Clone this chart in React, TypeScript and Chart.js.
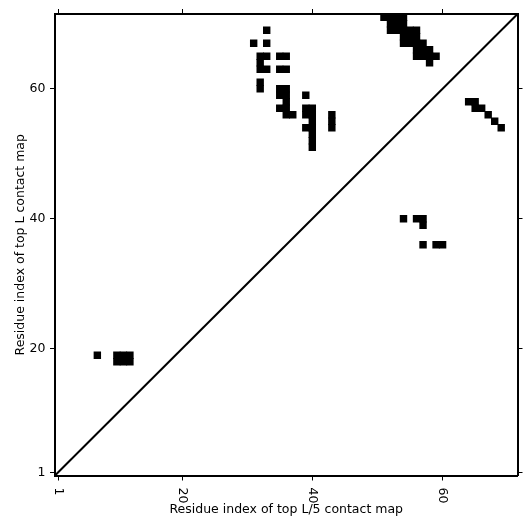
import React, { useEffect, useRef } from "react";
import { Chart, registerables } from "chart.js";

Chart.register(...registerables);

// Residue range (71 residues, cells centred on integer indices)
const AXIS_MIN = 0.5;
const AXIS_MAX = 71.5;

const X_TICKS = [1, 20, 40, 60];
const Y_TICKS = [1, 20, 40, 60];
const X_TICK_LABELS = ["1", "20", "40", "60"];
const Y_TICK_LABELS = ["1", "20", "40", "60"];

const X_TITLE = "Residue index of top L/5 contact map";
const Y_TITLE = "Residue index of top L contact map";

// Top L contacts (upper-left triangle): [column residue, row residue]
const TOP_L_CONTACTS: [number, number][] = [
  [33, 69],
  [31, 67], [33, 67],
  [32, 65], [33, 65], [35, 65], [36, 65],
  [32, 64],
  [32, 63], [33, 63], [35, 63], [36, 63],
  [32, 61], [32, 60],
  [35, 60], [36, 60], [35, 59], [36, 59],
  [36, 58],
  [35, 57], [36, 57],
  [36, 56], [37, 56],
  [39, 59],
  [39, 57], [40, 57], [39, 56], [40, 56], [40, 55], [39, 54], [40, 54], [40, 53], [40, 52], [40, 51],
  [43, 56], [43, 55], [43, 54],
  [7, 19], [10, 19], [11, 19], [12, 19], [10, 18], [11, 18], [12, 18],
  [51, 71], [52, 71], [53, 71], [54, 71],
  [52, 70], [53, 70], [54, 70],
  [52, 69], [53, 69], [54, 69], [55, 69], [56, 69],
  [54, 68], [55, 68], [56, 68],
  [54, 67], [55, 67], [56, 67], [57, 67],
  [56, 66], [57, 66], [58, 66],
  [56, 65], [57, 65], [58, 65], [59, 65],
  [58, 64],
];

// Top L/5 contacts (lower-right triangle): [column residue, row residue]
const TOP_L5_CONTACTS: [number, number][] = [
  [64, 58], [65, 58], [65, 57], [66, 57], [67, 56], [68, 55], [69, 54],
  [54, 40], [56, 40], [57, 40], [57, 39], [57, 36], [59, 36], [60, 36],
];

const FONT = '12.5px "DejaVu Sans"';

function cellRadius(ctx: any) {
  const s = ctx.chart.scales.x;
  if (!s) return 3;
  const w = Math.abs(s.getPixelForValue(1) - s.getPixelForValue(0));
  return (w + 0.9) / Math.SQRT2;
}

const textPlugin = {
  id: "textPlugin",
  afterDraw(chart: any) {
    const { ctx, chartArea, scales } = chart;
    ctx.save();
    ctx.fillStyle = "#000";
    ctx.font = FONT;
    // y tick labels
    ctx.textAlign = "right";
    ctx.textBaseline = "middle";
    Y_TICKS.forEach((v, i) => {
      const py = scales.y.getPixelForValue(v);
      ctx.fillText(Y_TICK_LABELS[i], chartArea.left - 9.5, py);
    });
    // x tick labels, rotated clockwise
    X_TICKS.forEach((v, i) => {
      const px = scales.x.getPixelForValue(v);
      ctx.save();
      ctx.translate(px, chartArea.bottom + 12);
      ctx.rotate(Math.PI / 2);
      ctx.textAlign = "left";
      ctx.textBaseline = "middle";
      ctx.fillText(X_TICK_LABELS[i], 0, 0);
      ctx.restore();
    });
    // x title
    ctx.textAlign = "center";
    ctx.textBaseline = "alphabetic";
    ctx.fillText(X_TITLE, (chartArea.left + chartArea.right) / 2, 512.5);
    // y title
    ctx.save();
    ctx.translate(24, (chartArea.top + chartArea.bottom) / 2);
    ctx.rotate(-Math.PI / 2);
    ctx.textAlign = "center";
    ctx.textBaseline = "alphabetic";
    ctx.fillText(Y_TITLE, 0, 0);
    ctx.restore();
    ctx.restore();
  },
};

function axis(position: string, axisId: string, size: number, ticks: number[]) {
  return {
    type: "linear",
    axis: axisId,
    position,
    min: AXIS_MIN,
    max: AXIS_MAX,
    afterBuildTicks: (s: any) => {
      s.ticks = ticks.map((v) => ({ value: v }));
    },
    afterFit: (s: any) => {
      if (axisId === "x") s.height = size;
      else s.width = size;
    },
    ticks: { display: false },
    grid: {
      drawOnChartArea: false,
      drawTicks: true,
      tickLength: 5,
      color: "#000",
      lineWidth: 1,
    },
    border: { display: true, color: "#000", width: 2 },
  };
}

export default function App() {
  const ref = useRef<HTMLCanvasElement | null>(null);
  useEffect(() => {
    document.body.style.margin = "0";
    if (!ref.current) return;
    const toPts = (arr: [number, number][]) => arr.map(([x, y]) => ({ x, y }));
    const chart = new Chart(ref.current, {
      type: "scatter",
      data: {
        datasets: [
          {
            type: "line",
            data: [
              { x: AXIS_MIN, y: AXIS_MIN },
              { x: AXIS_MAX, y: AXIS_MAX },
            ],
            borderColor: "#000",
            borderWidth: 2,
            pointRadius: 0,
            fill: false,
            xAxisID: "x",
            yAxisID: "y",
          } as any,
          {
            data: toPts(TOP_L_CONTACTS),
            pointStyle: "rect",
            pointRadius: cellRadius,
            backgroundColor: "#000",
            borderWidth: 0,
            xAxisID: "x",
            yAxisID: "y",
          },
          {
            data: toPts(TOP_L5_CONTACTS),
            pointStyle: "rect",
            pointRadius: cellRadius,
            backgroundColor: "#000",
            borderWidth: 0,
            xAxisID: "x",
            yAxisID: "y",
          },
        ],
      },
      options: {
        animation: false,
        responsive: false,
        devicePixelRatio: 1,
        layout: { padding: 0 },
        plugins: {
          legend: { display: false },
          tooltip: { enabled: false },
        },
        scales: {
          x: axis("bottom", "x", 55.5, X_TICKS),
          x2: axis("top", "x", 14, X_TICKS),
          y: axis("left", "y", 55, Y_TICKS),
          y2: axis("right", "y", 13.5, Y_TICKS),
        } as any,
      },
      plugins: [textPlugin],
    });
    return () => chart.destroy();
  }, []);
  return (
    <div style={{ position: "fixed", left: 0, top: 0, width: 531, height: 531, background: "#fff" }}>
      <canvas ref={ref} width={531} height={531} />
    </div>
  );
}
